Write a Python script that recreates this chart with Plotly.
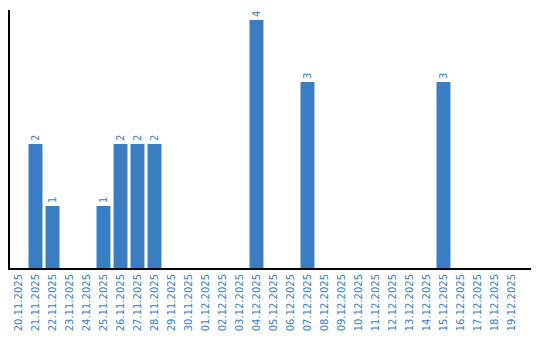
import plotly.graph_objects as go

dates = ["20.11.2025","21.11.2025","22.11.2025","23.11.2025","24.11.2025","25.11.2025",
         "26.11.2025","27.11.2025","28.11.2025","29.11.2025","30.11.2025","01.12.2025",
         "02.12.2025","03.12.2025","04.12.2025","05.12.2025","06.12.2025","07.12.2025",
         "08.12.2025","09.12.2025","10.12.2025","11.12.2025","12.12.2025","13.12.2025",
         "14.12.2025","15.12.2025","16.12.2025","17.12.2025","18.12.2025","19.12.2025"]
values = [0,2,1,0,0,1,2,2,2,0,0,0,0,0,4,0,0,3,0,0,0,0,0,0,0,3,0,0,0,0]

labels = [str(v) if v > 0 else "" for v in values]
blue = "#3b7dc2"

fig = go.Figure(go.Bar(
    x=dates, y=values, marker_color=blue, marker_line_width=0,
    text=labels, textposition="outside", textangle=-90,
    textfont=dict(color=blue, size=10, family="DejaVu Sans"),
    cliponaxis=False,
))
fig.update_layout(
    width=540, height=340,
    margin=dict(l=10, r=9, t=10, b=70),
    plot_bgcolor="white", paper_bgcolor="white",
    bargap=0.18, showlegend=False,
    font=dict(family="DejaVu Sans", size=10, color=blue),
)
fig.update_xaxes(type="category", range=[-0.5, 30.15], tickangle=-90, showline=True,
                 linecolor="black", linewidth=2, ticks="", showgrid=False,
                 tickfont=dict(color=blue, size=10, family="DejaVu Sans"))
fig.update_yaxes(range=[0, 4.16], showline=True, linecolor="black", linewidth=2,
                 showticklabels=False, ticks="", showgrid=False, zeroline=False)
fig.write_html("out.html")
